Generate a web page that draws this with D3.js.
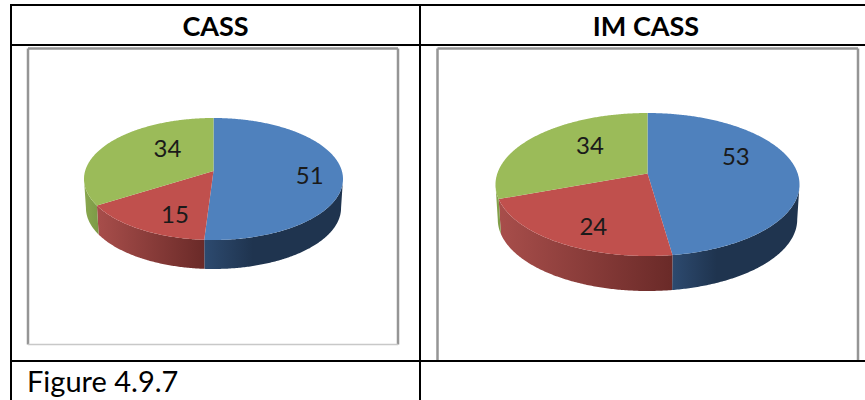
<!DOCTYPE html>
<html>
<head>
<meta charset="utf-8">
<script src="https://cdnjs.cloudflare.com/ajax/libs/d3/7.8.5/d3.min.js"></script>
<style>html,body{margin:0;padding:0;background:#fff;overflow:hidden}svg{display:block}text{font-family:Lato,"Open Sans",sans-serif}</style>
</head>
<body>
<svg id="c" width="865" height="400"></svg>
<script>
const categories = ["A", "B", "C"];
const cassValues = [51, 15, 34];
const imCassValues = [53, 24, 34];
const columnTitles = ["CASS", "IM CASS"];
const caption = "Figure 4.9.7";

const palette = {
  top: ["#4f81bd", "#c0504d", "#9bbb59"],
  wall: [
    [["0", "#2d4a6f"], ["0.35", "#1f344f"], ["1", "#1f344f"]],
    [["0", "#a84e4b"], ["1", "#6a2a28"]],
    [["0", "#8aa84f"], ["1", "#7b9a46"]]
  ]
};

const svg = d3.select("#c");
const defs = svg.append("defs");

function tableLine(x1, y1, x2, y2) {
  svg.append("line").attr("x1", x1).attr("y1", y1).attr("x2", x2).attr("y2", y2)
    .attr("stroke", "#000").attr("stroke-width", 2);
}

function frame(l, t, r, b, bottomEdge) {
  svg.append("rect").attr("x", l).attr("y", t).attr("width", r - l).attr("height", b - t).attr("fill", "#fff");
  const g = "#959595";
  [[l, t, r, t], [l, t, l, b], [r, t, r, b]].forEach(d =>
    svg.append("line").attr("x1", d[0]).attr("y1", d[1]).attr("x2", d[2]).attr("y2", d[3])
      .attr("stroke", g).attr("stroke-width", 2.5));
  if (bottomEdge) svg.append("line").attr("x1", l).attr("y1", b).attr("x2", r).attr("y2", b)
    .attr("stroke", "#c8c8c8").attr("stroke-width", 1.5);
}

function drawPie(id, values, o) {
  const arcs = d3.pie().sort(null).value(d => d)(values);
  const far = o.far, near = o.near, apex = o.apex;
  // perspective projection of the unit disc
  const k = (far + near - 2 * apex) / (near - far);
  const a = far * (1 + k) - apex;
  const c = o.rx * Math.sqrt(1 - k * k);
  const project = (t, f) => {
    const u = f * Math.sin(t), v = f * Math.cos(t), w = 1 + k * v;
    return [o.cx + c * u / w, (a * v + apex) / w];
  };
  const line = d3.line();
  const samples = (t0, t1) => {
    const n = Math.max(2, Math.ceil(Math.abs(t1 - t0) / 0.01));
    return d3.range(n + 1).map(i => t0 + (t1 - t0) * i / n);
  };
  const wallMin = Math.acos(-k), wallMax = 2 * Math.PI - wallMin;
  const g = svg.append("g");

  arcs.forEach((d, i) => {
    const t0 = Math.max(d.startAngle, wallMin), t1 = Math.min(d.endAngle, wallMax);
    if (t1 <= t0) return;
    const upper = samples(t0, t1).map(t => project(t, 1));
    const lower = upper.slice().reverse().map(p => [o.cx + (p[0] - o.cx) * o.shrink, p[1] + o.depth]);
    const pts = upper.concat(lower);
    const gid = id + "w" + i;
    const xs = d3.extent(pts, p => p[0]);
    const grad = defs.append("linearGradient").attr("id", gid).attr("gradientUnits", "userSpaceOnUse")
      .attr("x1", xs[0]).attr("x2", xs[1]).attr("y1", 0).attr("y2", 0);
    palette.wall[i].forEach(s => grad.append("stop").attr("offset", s[0]).attr("stop-color", s[1]));
    g.append("path").attr("d", line(pts) + "Z").attr("fill", `url(#${gid})`);
  });

  arcs.forEach((d, i) => {
    const pts = [project(0, 0)].concat(samples(d.startAngle, d.endAngle).map(t => project(t, 1)));
    g.append("path").attr("d", line(pts) + "Z").attr("fill", palette.top[i]);
  });

  arcs.forEach((d, i) => {
    const p = project((d.startAngle + d.endAngle) / 2, 0.6);
    g.append("text").attr("x", p[0] + o.nudge[i][0]).attr("y", p[1] + o.nudge[i][1])
      .attr("text-anchor", "middle").attr("dominant-baseline", "central")
      .attr("font-size", 24).attr("fill", "#1a1a1a").text(d.value);
  });
}

frame(28, 48.5, 398, 344.5, true);
frame(437.5, 48.5, 858, 361, false);

drawPie("p1", cassValues, {cx: 213.5, rx: 129.5, far: 118, near: 240, apex: 171, depth: 29, shrink: 0.985,
  nudge: [[19, 2], [3.5, 9], [19, -7]]});
drawPie("p2", imCassValues, {cx: 647.5, rx: 152, far: 113, near: 256, apex: 173.5, depth: 35, shrink: 0.985,
  nudge: [[-1, -15.5], [-4, 13.4], [12.7, -6.7]]});

tableLine(11, 5, 865, 5);
tableLine(11, 45, 865, 45);
tableLine(11, 361, 865, 361);
tableLine(11, 4, 11, 400);
tableLine(420, 4, 420, 400);

svg.selectAll("text.head").data(columnTitles).join("text").attr("class", "head")
  .attr("x", (d, i) => [215.5, 646][i]).attr("y", 36).attr("text-anchor", "middle")
  .attr("font-size", 27).attr("font-weight", 700).attr("fill", "#000").text(d => d);
svg.append("text").attr("x", 27).attr("y", 392).attr("font-size", 29).attr("fill", "#000").text(caption);
</script>
</body>
</html>
